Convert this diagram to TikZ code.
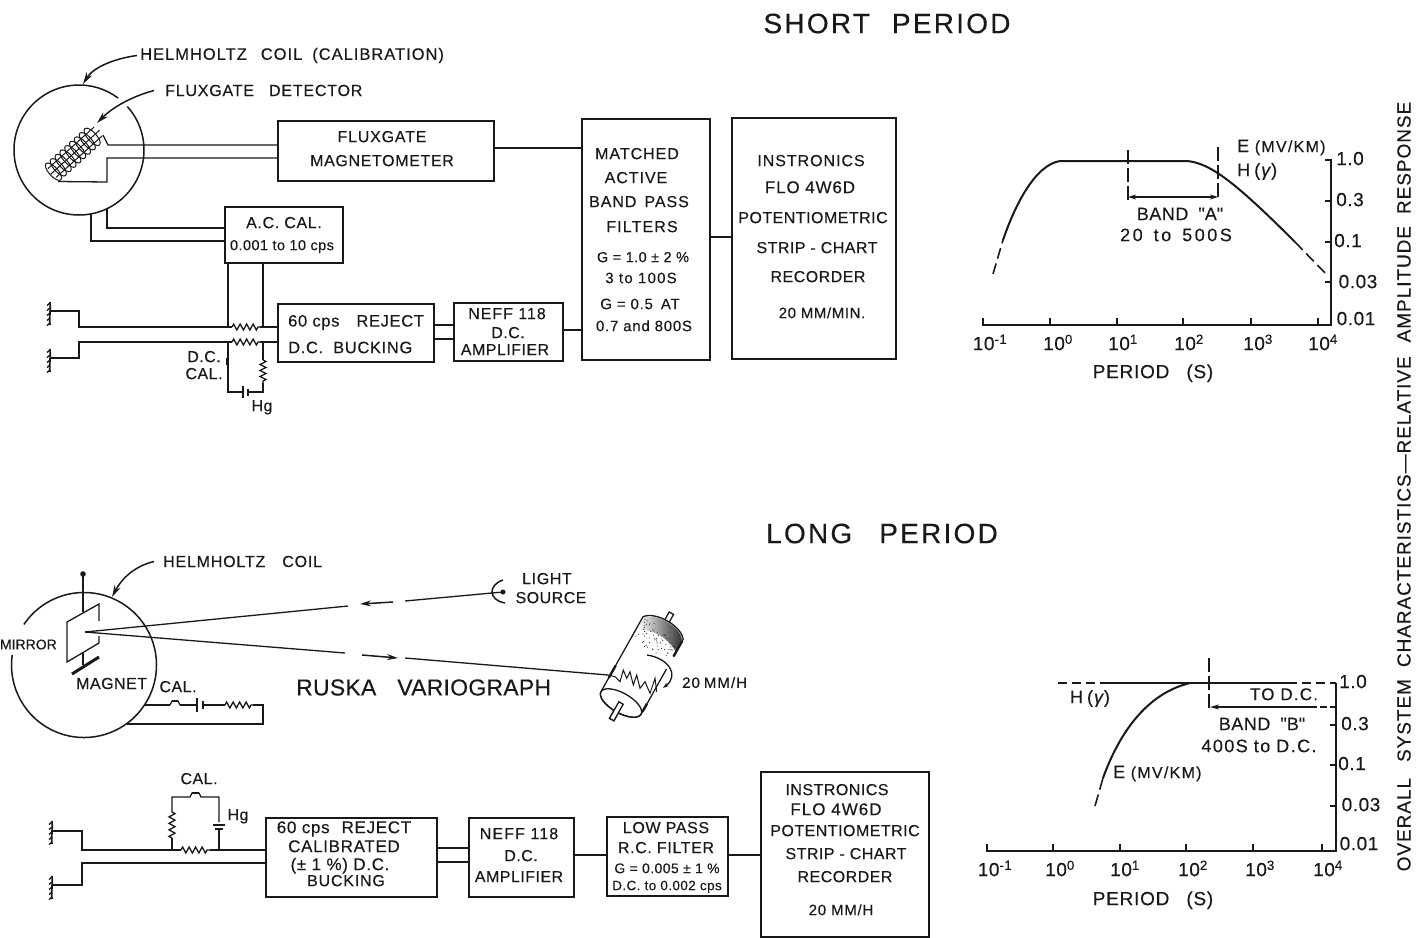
\documentclass[tikz,border=0pt]{standalone}
\usepackage{fontspec}
\setmainfont[LetterSpace=3,FakeBold=0.25]{Liberation Sans}
\newfontfamily\qf[LetterSpace=3,FakeBold=0.25]{Liberation Sans}
\usetikzlibrary{arrows.meta,decorations.pathmorphing,calc}
\newcommand\fz[1]{\fontsize{#1pt}{#1pt}\selectfont}
\newcommand\ls[1]{\addfontfeature{LetterSpace=#1}}
\newcommand\qq{{\qf\char34}}
\newcommand\lab[4][]{\node[lbl,#1] (#2) at (#3) {#4};}
\newcommand\gap[1]{\hspace{#1pt}}
\tikzset{
 lbl/.style={inner sep=0pt,anchor=mid,yshift=-1.5pt,font=\fz{16},text=black!90},
 blk/.style={draw=black!90,line width=1.5pt,fill=white,inner sep=0pt,anchor=north west},
 wire/.style={draw=black!90,line width=1.3pt},
 res/.style={wire,decorate,decoration={zigzag,segment length=6.5pt,amplitude=3pt}},
 dsh/.style={draw=black!90,line width=1.6pt,dash pattern=on 9pt off 5pt},
 tip/.style={-{Stealth[length=12pt,width=6.5pt]}},
 axis/.style={draw=black!90,line width=1.6pt},
 gnum/.style={font=\fz{19}},
 gtxt/.style={font=\fz{18}\ls{3}}
}
\newcommand\blockbox[5]{\node[blk,minimum width=#4pt-#2pt,minimum height=#5pt-#3pt] (#1) at (#2,#3) {};}
\newcommand\grnd[2]{%
 \draw[line width=1.7pt,draw=black!90] (#1,#2-11) .. controls (#1+1,#2-4) and (#1-1,#2+4) .. (#1,#2+12);
 \foreach \k in {-10,-5,0,5,10} \draw[line width=1.3pt,draw=black!90] (#1,#2+\k) -- (#1-3,#2+\k+2.5);
}
\begin{document}
\begin{tikzpicture}[x=1pt,y=-1pt]
\fill[white] (0,0) rectangle (1418,937);
\useasboundingbox (0,0) rectangle (1418,937);
%% titles
\lab[font=\fz{28}\ls{8}]{tshort}{887,29}{SHORT\gap{22}PERIOD}
\lab[font=\fz{28}\ls{8}]{tlong}{882,539}{LONG\gap{27}PERIOD}
%% ---------- SHORT PERIOD, left
\draw[wire,line width=1.5pt] (79,150) ++(-42:65) arc[start angle=-42,end angle=307,radius=65];
\coordinate (arrowA) at (83,84);
\coordinate (arrowB) at (97,123);
\lab[anchor=west,font=\fz{16.5}\ls{6}]{thc}{140,54}{HELMHOLTZ\gap{14}COIL\gap{10}(CALIBRATION)}
\lab[anchor=west,font=\fz{16}\ls{5}]{tfd}{165,89}{FLUXGATE\gap{15}DETECTOR}
\draw[wire,line width=1.5pt,tip] ([xshift=-3pt]thc.west) .. controls (112,59) and (93,68) .. (arrowA);
\draw[wire,line width=1.5pt,tip] ([xshift=-11pt]tfd.west) .. controls (130,97) and (112,108) .. (arrowB);
% coil
\begin{scope}[shift={(52,173)},rotate=42]
  \foreach \u in {2,8.5,...,58}{
    \draw[line width=1pt,black!90] (\u,0) ellipse [x radius=4.5pt,y radius=11pt];
  }
  \draw[line width=1pt,black!90] (0,-6) -- (62,-6) (-2,0) -- (64,0) (0,6) -- (62,6);
\end{scope}
\coordinate (coilA) at (103,135);
\coordinate (coilB) at (58,181.5);
\blockbox{fgm}{277}{120}{493}{180}
\draw[wire] (coilA) -- (108,145) -- (108,145 -| fgm.west);
\draw[wire] (coilB) -- (107,182) -- (107,158) -- (107,158 -| fgm.west);
\lab[font=\fz{16}\ls{5}]{tfg1}{382,138}{FLUXGATE}
\lab[font=\fz{16}\ls{4}]{tfg2}{382,162}{MAGNETOMETER}
\blockbox{acc}{224}{206}{342}{262}
\lab[font=\fz{16}\ls{4}]{tac1}{284,224}{A.C. CAL.}
\lab[font=\fz{14.5}]{tac2}{282,246}{0.001 to 10 cps}
\draw[wire] (107,209) -- (107,228) -- (107,228 -| acc.west);
\draw[wire] (91,214) -- (91,241) -- (91,241 -| acc.west);
\blockbox{bk1}{277}{303}{433}{361}
\lab[anchor=west,font=\fz{16.5}\ls{4}]{tb1}{288,321}{60 cps\gap{17}REJECT}
\lab[anchor=west,font=\fz{16.5}\ls{4}]{tb2}{288,346}{D.C.\gap{10}BUCKING}
\blockbox{nf1}{453}{302}{562}{360}
\lab[font=\fz{16}\ls{6}]{tn1}{507,315}{NEFF 118}
\lab{tn2}{508,334}{D.C.}
\lab{tn3}{505,351}{AMPLIFIER}
\blockbox{flt}{581}{118}{709}{359}
\lab[font=\fz{16}\ls{6}]{tf1}{637,155}{MATCHED}
\lab[font=\fz{16}\ls{6}]{tf2}{636,179}{ACTIVE}
\lab[font=\fz{16}\ls{6}]{tf3}{639,203}{BAND\gap{8}PASS}
\lab[font=\fz{16}\ls{7}]{tf4}{642,228}{FILTERS}
\lab[font=\fz{14.5}]{tf5}{643,258}{G = 1.0 ± 2 \%}
\lab[font=\fz{15}\ls{8}]{tf6}{641,279}{3 to 100S}
\lab[font=\fz{15}\ls{5}]{tf7}{640,305}{G = 0.5\gap{8}AT}
\lab[font=\fz{15}\ls{5}]{tf8}{644,327}{0.7 and 800S}
\blockbox{rc1}{731}{117}{895}{358}
\lab[font=\fz{16}\ls{6}]{tr1}{811,162}{INSTRONICS}
\lab[font=\fz{17}\ls{5}]{tr2}{810,189}{FLO 4W6D}
\lab{tr3}{813,219}{POTENTIOMETRIC}
\lab{tr4}{817,249}{STRIP - CHART}
\lab{tr5}{818,278}{RECORDER}
\lab[font=\fz{15}\ls{4}]{tr6}{822,314}{20 MM/MIN.}
\draw[wire] (fgm.east |- 0,148) -- (flt.west |- 0,148);
\draw[wire] (flt.east |- 0,237) -- (rc1.west |- 0,237);
\draw[wire] (bk1.east |- 0,325) -- (nf1.west |- 0,325);
\draw[wire] (bk1.east |- 0,339) -- (nf1.west |- 0,339);
\draw[wire] (nf1.east |- 0,330) -- (flt.west |- 0,330);
% grounds and resistors
\coordinate (g1) at (50,311);
\coordinate (g2) at (50,358);
\grnd{50}{313}
\grnd{50}{360}
\coordinate (r1a) at (232,327);\coordinate (r1b) at (260,327);
\coordinate (r2a) at (232,342);\coordinate (r2b) at (260,342);
\draw[wire] (g1) -- (79,311) -- (79,327) -- (r1a);
\draw[res] (r1a) -- (r1b);
\draw[wire] (r1b) -- (r1b -| bk1.west);
\draw[wire] (g2) -- (79,358) -- (79,342) -- (r2a);
\draw[res] (r2a) -- (r2b);
\draw[wire] (r2b) -- (r2b -| bk1.west);
\draw[wire] (acc.south -| 228,0) -- (228,327);
\draw[wire] (acc.south -| 263,0) -- (263,327);
\draw[wire] (228,342) -- (228,392) -- (242,392);
\draw[wire] (248,392) -- (263,392) -- (263,383);
\draw[wire] (263,342) -- (263,360);
\draw[res,segment length=6pt] (263,360) -- (263,383);
\draw[wire,line width=1.6pt] (243,386) -- (243,398);
\draw[wire] (248,388.5) -- (248,395.5);
\fill[black!90] (226,358) rectangle (229,365);
\lab{tdc1}{204,358}{D.C.}
\lab{tdc2}{204,375}{CAL.}
\lab[font=\fz{16}]{thg1}{262,407}{Hg}
%% ---------- SHORT PERIOD graph
\draw[axis] (983,318) -- (983,325) -- (1331,325) -- (1331,160) -- (1325,160);
\foreach \x in {1050,1117,1183,1251,1318} \draw[wire] (\x,318) -- (\x,325);
\foreach \y in {201,242,282} \draw[wire] (1325,\y) -- (1331,\y);
\draw[dsh,dash pattern=on 11pt off 5pt] (993,274) -- (1003,240);
\draw[line width=2pt,black!90] (1003,240) .. controls (1015,205) and (1035,165) .. (1060,161) -- (1187,161) .. controls (1210,163) and (1235,182) .. (1295,242);
\draw[dsh,dash pattern=on 11pt off 5pt] (1295,242) -- (1328,276);
\coordinate (bA) at (1128,197);\coordinate (bB) at (1218,197);
\draw[dsh,dash pattern=on 14pt off 4pt] (1128,150) -- (1128,200);
\draw[dsh,dash pattern=on 14pt off 4pt] (1218,147) -- (1218,198);
\draw[line width=1.6pt,black!90,{Stealth[length=8pt,width=5pt]}-{Stealth[length=8pt,width=5pt]}] (bA) -- (bB);
\lab[gtxt]{tba1}{1180,216}{BAND\gap{10}\qq A\qq}
\lab[font=\fz{18}\ls{14}]{tba2}{1176,237}{20\gap{11}to\gap{11}500S}
\lab[anchor=west,font=\fz{18}]{tem1}{1237,146}{E {\fz{16}\ls{8}(MV/KM)}}
\lab[anchor=west,font=\fz{18}]{thy1}{1237,170}{H\gap{4}(\gap{1}{\itshape γ}\gap{1})}
\lab[gnum]{ty1}{1350,161}{1.0}
\lab[gnum]{ty2}{1350,202}{0.3}
\lab[gnum]{ty3}{1348,243}{0.1}
\lab[gnum]{ty4}{1358,284}{0.03}
\lab[gnum]{ty5}{1356,321}{0.01}
\lab[gnum]{tx1}{990,346}{10\textsuperscript{-1}}
\lab[gnum]{tx2}{1058,346}{10\textsuperscript{0}}
\lab[gnum]{tx3}{1123,346}{10\textsuperscript{1}}
\lab[gnum]{tx4}{1189,346}{10\textsuperscript{2}}
\lab[gnum]{tx5}{1258,346}{10\textsuperscript{3}}
\lab[gnum]{tx6}{1323,346}{10\textsuperscript{4}}
\lab[font=\fz{19}\ls{4}]{tpr1}{1153,374}{PERIOD\gap{17}(S)}
%% ---------- LONG PERIOD, variograph
\draw[wire,line width=1.5pt] (84,665) ++(214:72.5) arc[start angle=214,end angle=548,radius=72.5];
\fill[black!90] (83,574) circle (2.8pt);
\draw[wire] (83,574) -- (83,612);
\draw[wire] (99,621) -- (99,604) -- (67,622) -- (67,662) -- (99,643) -- (99,636);
\draw[wire] (83,653) -- (83,665);
\draw[line width=3pt,black!90] (72,674) -- (99,657);
\coordinate (mir) at (85,632);
\coordinate (lsrc) at (503,592);
\coordinate (drm) at (608,675);
\draw[wire] (mir) -- (348,606);
\draw[wire,line width=1.5pt,{Stealth[length=11pt,width=6pt]}-] (360,604) -- (393,602);
\draw[wire] (405,601) -- (lsrc);
\fill[black!90] (lsrc) circle (2.5pt);
\draw[wire,line width=1.5pt] (503,580) .. controls (488,585) and (488,600) .. (505,603);
\draw[wire] (mir) -- (345,653);
\draw[wire,line width=1.5pt,-{Stealth[length=11pt,width=6pt]}] (362,655) -- (398,658);
\draw[wire] (405,658) -- (drm);
\lab[font=\fz{16}\ls{4}]{tls1}{547,580}{LIGHT}
\lab[font=\fz{16}]{tls2}{551,599}{SOURCE}
\lab[anchor=east,font=\fz{14}\ls{0}]{tmir}{57,643}{MIRROR}
\lab[anchor=west]{tmag}{76,682}{MAGNET}
\lab{tcal1}{178,688}{CAL.}
\lab[anchor=west,font=\fz{23}\ls{1}]{trv}{296,686}{RUSKA\gap{21}VARIOGRAPH}
\lab[anchor=west,font=\fz{16}\ls{5}]{thc2}{163,560}{HELMHOLTZ\gap{17}COIL}
\coordinate (arrowC) at (112,597);
\draw[wire,line width=1.5pt,tip] ([xshift=-9pt]thc2.west) .. controls (135,566) and (122,578) .. (arrowC);
\lab[anchor=west,font=\fz{15}\ls{7}]{t20h}{682,681}{20\gap{4}MM/H}
% calibration loop
\draw[wire] (145,705) -- (170,705);
\draw[wire] (170,705) -- (172,701) -- (178,701) -- (180,705);
\fill[black!90] (172,700) rectangle (178,702);
\draw[wire] (180,705) -- (196,705);
\draw[wire,line width=1.6pt] (197,698) -- (197,712);
\draw[wire] (203,701) -- (203,709);
\draw[wire] (203,705) -- (225,705);
\draw[res] (225,705) -- (253,705);
\draw[wire] (253,705) -- (263,705) -- (263,724) -- (127,724);
% drum
\begin{scope}[shift={(621,703)},rotate=60.7]
  \draw[wire,fill=white] (-19,-2.5) rectangle (-4,2.5);
  \draw[wire,fill=white] (90,-2.5) rectangle (103,2.5);
  \draw[wire,fill=white] (0,-23) -- (86,-23) .. controls (97,-15) and (97,15) .. (86,23) -- (0,23) arc[start angle=90,end angle=270,x radius=10,y radius=23];
  \fill[white] (-1,-22) rectangle (60,22);
  \draw[wire] (0,0) ellipse [x radius=10pt,y radius=23pt];
  \draw[wire,fill=white] (-19,-2.5) rectangle (0,2.5);
  \shade[left color=white,right color=black!80] (72,-22) -- (85,-22) .. controls (96,-15) and (96,15) .. (85,22) -- (72,22) .. controls (80,8) and (80,-8) .. cycle;
  \draw[line width=2.4pt,black!90] (66,23) -- (84,23);
  \draw[line width=2.4pt,black!90] (16,-23) -- (30,-23);
  \draw[line width=2.4pt,black!90] (3,23) -- (12,23);
  \pgfmathsetseed{7}
  \foreach \i in {1,...,70}{
    \pgfmathsetmacro\uu{64+rand*14+10}
    \pgfmathsetmacro\vv{rand*20}
    \fill[black!80] (\uu,\vv) circle (0.6pt);
  }
  \fill[white] (52,24.2) rectangle (66,22);
\end{scope}
\draw[line width=1pt,black!90] (drm) -- (615,676.7) -- (620,681.7) -- (623.3,670) -- (626.7,678.3) -- (630,671.7) -- (633.3,685) -- (636.7,675) -- (640,688.3) -- (645,681.7) -- (650,693.3) -- (655,678.3) -- (656.7,691.7);
\draw[wire,-{Stealth[length=6pt,width=4pt]}] (647,655) .. controls (668,658) and (680,675) .. (663,688);
%% ---------- LONG PERIOD, chain
\blockbox{bk2}{265}{817}{436}{896}
\lab[font=\fz{17}\ls{4}]{tk1}{344,829}{60 cps\gap{12}REJECT}
\lab[font=\fz{17}\ls{4}]{tk2}{344,848}{CALIBRATED}
\lab[font=\fz{17}\ls{4}]{tk3}{340,866}{(± 1 \%) D.C.}
\lab[font=\fz{16}\ls{5}]{tk4}{346,882}{BUCKING}
\blockbox{nf2}{468}{817}{573}{896}
\lab[font=\fz{16}\ls{7}]{tq1}{519,835}{NEFF 118}
\lab{tq2}{521,857}{D.C.}
\lab{tq3}{519,878}{AMPLIFIER}
\blockbox{lpf}{606}{816}{727}{895}
\lab[font=\fz{16}\ls{4}]{tl1}{666,829}{LOW PASS}
\lab[font=\fz{16}\ls{4}]{tl2}{666,849}{R.C. FILTER}
\lab[font=\fz{14}]{tl3}{667,869}{G = 0.005 ± 1 \%}
\lab[font=\fz{13.5}]{tl4}{667,886}{D.C. to 0.002 cps}
\blockbox{rc2}{760}{771}{928}{936}
\lab{ts1}{837,791}{INSTRONICS}
\lab[font=\fz{17}\ls{6}]{ts2}{836,811}{FLO 4W6D}
\lab{ts3}{845,832}{POTENTIOMETRIC}
\lab{ts4}{846,855}{STRIP - CHART}
\lab{ts5}{845,878}{RECORDER}
\lab[font=\fz{15}\ls{5}]{ts6}{841,911}{20 MM/H}
\draw[wire] (bk2.east |- 0,848) -- (nf2.west |- 0,848);
\draw[wire] (bk2.east |- 0,862) -- (nf2.west |- 0,862);
\draw[wire] (nf2.east |- 0,855) -- (lpf.west |- 0,855);
\draw[wire] (lpf.east |- 0,855) -- (rc2.west |- 0,855);
\coordinate (g3) at (52,831);
\coordinate (g4) at (52,885);
\grnd{52}{832}
\grnd{52}{887}
\coordinate (r3a) at (181,850);\coordinate (r3b) at (210,850);
\draw[wire] (g3) -- (82,831) -- (82,850) -- (r3a);
\draw[res] (r3a) -- (r3b);
\draw[wire] (r3b) -- (r3b -| bk2.west);
\draw[wire] (g4) -- (82,885) -- (82,863) -- (82,863 -| bk2.west);
\draw[wire] (172,850) -- (172,838);
\draw[res] (172,838) -- (172,810);
\draw[wire] (172,810) -- (172,797) -- (190,797) -- (192,793) -- (199,793) -- (201,797) -- (219,797) -- (219,822);
\fill[black!90] (192,792) rectangle (199,794);
\draw[wire,line width=1.6pt] (213,825) -- (225,825);
\draw[wire] (219,829) -- (219,850);
\draw[wire] (215,829) -- (223,829);
\lab{tcal2}{199,780}{CAL.}
\lab[font=\fz{16}]{thg2}{238,816}{Hg}
%% ---------- LONG PERIOD graph
\draw[axis] (987,844) -- (987,851) -- (1336,851) -- (1336,683);
\foreach \x in {1053,1120,1186,1253,1322} \draw[wire] (\x,844) -- (\x,851);
\foreach \y in {725,765,806} \draw[wire] (1330,\y) -- (1336,\y);
\draw[dsh] (1058,683) -- (1102,683);
\draw[line width=2pt,black!90] (1102,683) -- (1288,683);
\draw[dsh] (1288,683) -- (1336,683);
\draw[dsh,dash pattern=on 12pt off 5pt] (1095,806) -- (1103,778);
\draw[line width=2pt,black!90] (1103,778) .. controls (1115,745) and (1140,695) .. (1190,683);
\draw[dsh,dash pattern=on 14pt off 4pt] (1209,658) -- (1209,710);
\draw[line width=1.5pt,black!90,{Stealth[length=9pt,width=5pt]}-] (1210,707) -- (1310,707);
\draw[dsh,dash pattern=on 7pt off 3pt] (1310,707) -- (1336,707);
\lab[font=\fz{18}]{thy2}{1090,699}{H\gap{4}(\gap{1}{\itshape γ}\gap{1})}
\lab[font=\fz{17}\ls{7}]{ttd}{1284,696}{TO D.C.}
\lab[gtxt]{tbb1}{1262,726}{BAND\gap{10}\qq B\qq}
\lab[font=\fz{18}\ls{8}]{tbb2}{1259,748}{400S\gap{6}to\gap{6}D.C.}
\lab[anchor=west,font=\fz{18}]{tem2}{1113,772}{E {\fz{16}\ls{8}(MV/KM)}}
\lab[gnum]{tz1}{1353,684}{1.0}
\lab[gnum]{tz2}{1355,726}{0.3}
\lab[gnum]{tz3}{1352,766}{0.1}
\lab[gnum]{tz4}{1361,807}{0.03}
\lab[gnum]{tz5}{1359,846}{0.01}
\lab[gnum]{tw1}{995,872}{10\textsuperscript{-1}}
\lab[gnum]{tw2}{1060,872}{10\textsuperscript{0}}
\lab[gnum]{tw3}{1125,872}{10\textsuperscript{1}}
\lab[gnum]{tw4}{1193,872}{10\textsuperscript{2}}
\lab[gnum]{tw5}{1260,872}{10\textsuperscript{3}}
\lab[gnum]{tw6}{1328,872}{10\textsuperscript{4}}
\lab[font=\fz{19}\ls{4}]{tpr2}{1153,901}{PERIOD\gap{17}(S)}
%% vertical caption
\lab[rotate=90,anchor=center,yshift=0pt,font=\fz{19}\ls{5}]{tcap}{1404,485}{OVERALL\gap{16}SYSTEM\gap{12}CHARACTERISTICS—RELATIVE\gap{14}AMPLITUDE\gap{12}RESPONSE}
\end{tikzpicture}
\end{document}
